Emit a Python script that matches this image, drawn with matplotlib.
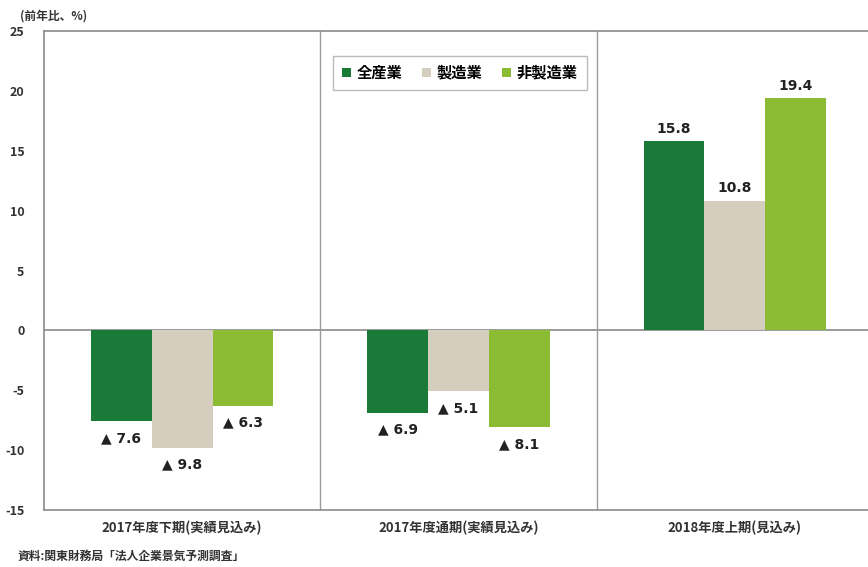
import numpy as np
import matplotlib.pyplot as plt
from matplotlib.patches import Patch

plt.rcParams['font.family'] = ['Noto Sans CJK JP', 'DejaVu Sans']
plt.rcParams['axes.unicode_minus'] = False

periods = ['2017年度下期(実績見込み)', '2017年度通期(実績見込み)', '2018年度上期(見込み)']
series_names = ['全産業', '製造業', '非製造業']
all_industry = [-7.6, -6.9, 15.8]
manufacturing = [-9.8, -5.1, 10.8]
non_manufacturing = [-6.3, -8.1, 19.4]
colors = ['#1a7a37', '#d5cdbd', '#8cbb34']

series = [all_industry, manufacturing, non_manufacturing]

fig = plt.figure(figsize=(8.68, 5.67), dpi=100)
ax = fig.add_axes([44 / 868, 57 / 567, 829 / 868, 479 / 567])

bar_w = 0.22
centers = np.arange(len(periods)) + 0.5
for i, (vals, col) in enumerate(zip(series, colors)):
    xs = centers + (i - 1) * bar_w
    ax.bar(xs, vals, width=bar_w, color=col, edgecolor='none')
    for x, v in zip(xs, vals):
        if v < 0:
            ax.annotate(f'▲ {abs(v):.1f}', (x, v), xytext=(0, -7), textcoords='offset points',
                        ha='center', va='top', fontsize=10, fontweight='bold', color='#222222',
                        family=['DejaVu Sans'])
        else:
            ax.annotate(f'{v:.1f}', (x, v), xytext=(0, 4), textcoords='offset points',
                        ha='center', va='bottom', fontsize=10, fontweight='bold', color='#222222',
                        family=['DejaVu Sans'])

ax.set_xlim(0, 3)
ax.set_ylim(-15, 25)
ax.set_yticks(range(-15, 30, 5))
ax.set_xticks(centers)
ax.set_xticklabels(periods, fontsize=9.5, fontweight='bold', color='#333333')
ax.tick_params(axis='x', length=0, pad=8)
ax.tick_params(axis='y', length=0, labelsize=9, labelcolor='#333333', pad=14)
for lab in ax.get_yticklabels():
    lab.set_fontweight('bold')

ax.axhline(0, color='#8a8a8a', lw=1.2, zorder=0)
for xv in (1, 2):
    ax.axvline(xv, color='#9a9a9a', lw=1.0, zorder=0)
for s in ax.spines.values():
    s.set_color('#8a8a8a')
    s.set_linewidth(1.2)

handles = [Patch(facecolor=c, edgecolor='none') for c in colors]
leg = fig.legend(handles, series_names, loc='upper center', bbox_to_anchor=(460 / 868, 1 - 48 / 567),
                 ncol=3, prop={'weight': 'bold', 'size': 11},
                 handlelength=0.55, handleheight=0.55, handletextpad=0.4, columnspacing=1.3,
                 frameon=True, fancybox=False, edgecolor='#aaaaaa', borderpad=0.6)
leg.get_frame().set_linewidth(1.0)

fig.text(20 / 868, 1 - 16 / 567, '(前年比、%)', fontsize=8.5, fontweight='bold', color='#333333',
         va='center')
fig.text(18 / 868, 1 - 556 / 567, '資料:関東財務局「法人企業景気予測調査」', fontsize=8.5,
         fontweight='bold', color='#333333', va='center')

fig.savefig('out.png', dpi=100)
